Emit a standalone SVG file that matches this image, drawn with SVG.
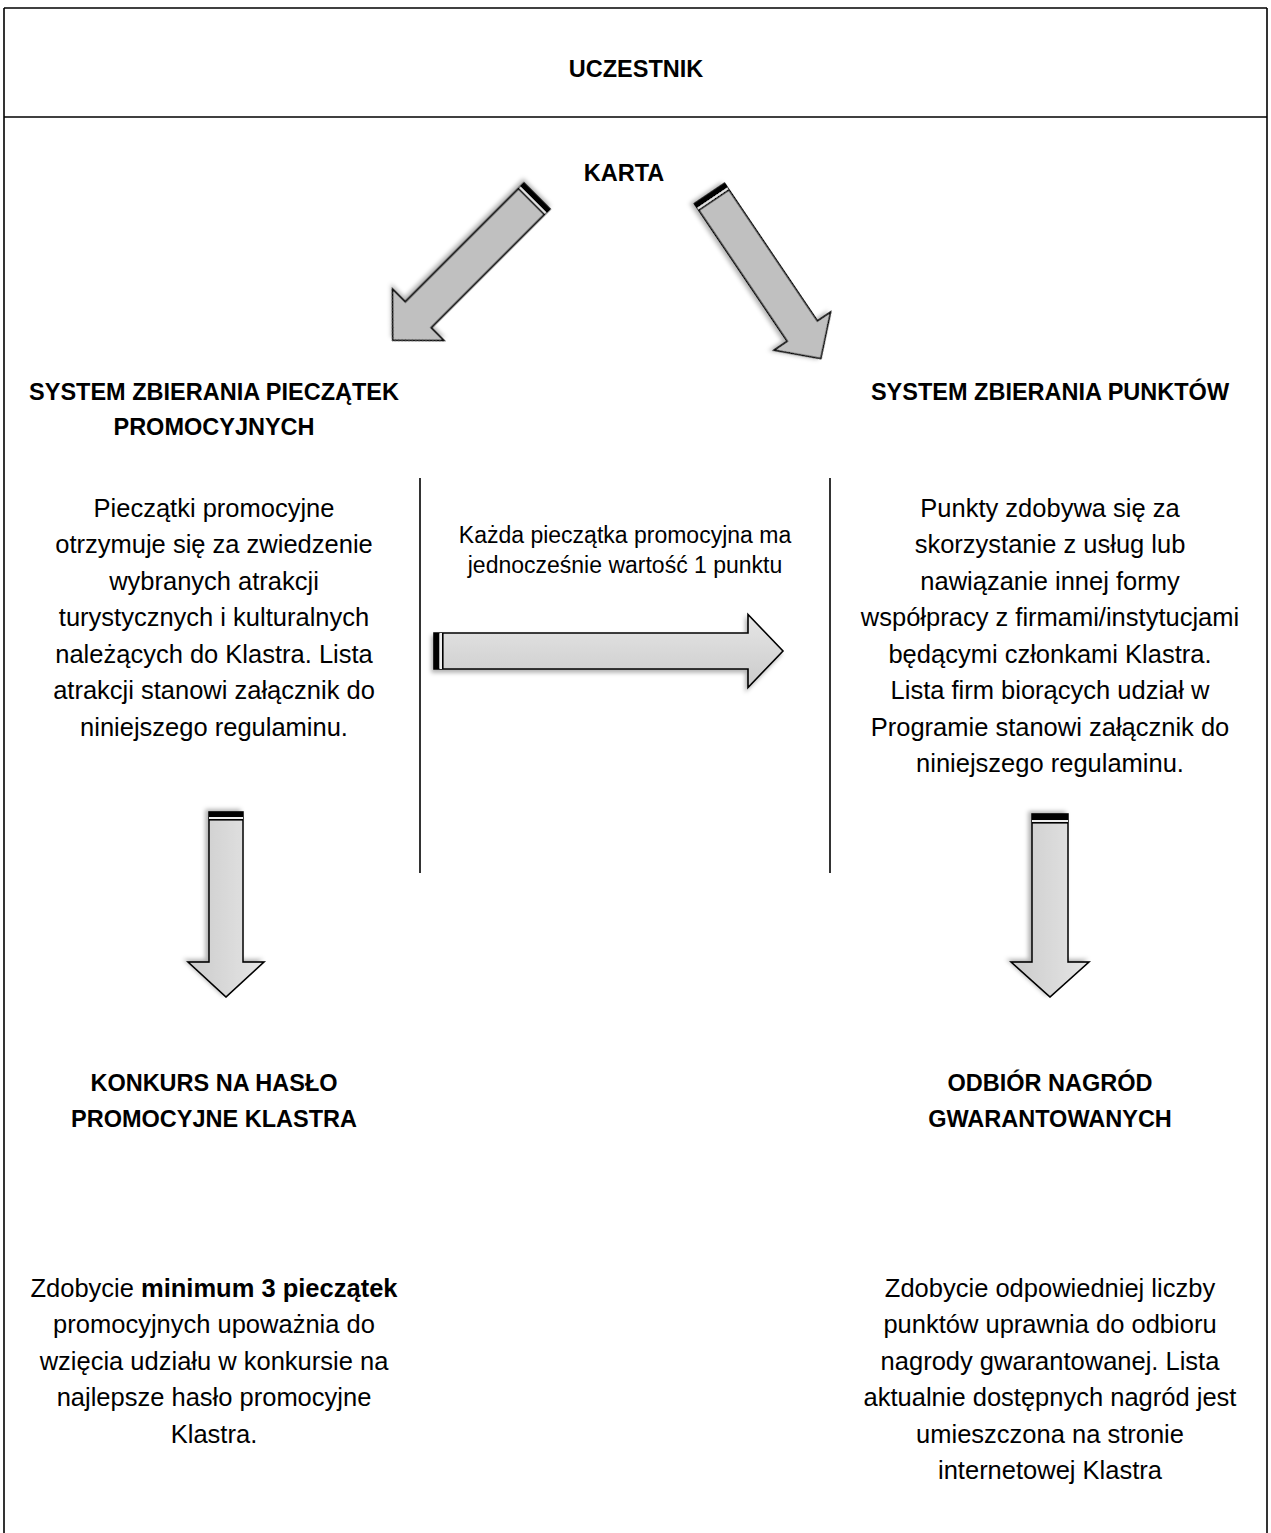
<svg xmlns="http://www.w3.org/2000/svg" width="1271" height="1533" viewBox="0 0 1271 1533">
<style>
text{font-family:"Liberation Sans",Arial,sans-serif;fill:#000;text-anchor:middle}
.t{font-weight:bold;font-size:23.5px}
.b{font-size:25.5px}
.m{font-size:23px}
.frame{stroke:#000;stroke-width:1.6;fill:none}
.arr{stroke:#000;stroke-width:1.6;stroke-linejoin:miter}
</style>
<defs>
<linearGradient id="g" x1="0" y1="0" x2="0" y2="1">
<stop offset="0" stop-color="#e6e6e6"/>
<stop offset="1" stop-color="#cbcbcb"/>
</linearGradient>
<filter id="sh" x="-20%" y="-20%" width="140%" height="140%">
<feDropShadow dx="-2" dy="3" stdDeviation="2" flood-color="#000" flood-opacity="0.3"/>
</filter>
</defs>
<g id="frame">
<line class="frame" x1="4" y1="8" x2="1267" y2="8"/>
<line class="frame" x1="4" y1="8" x2="4" y2="1533"/>
<line class="frame" x1="1267" y1="8" x2="1267" y2="1533"/>
<line class="frame" x1="4" y1="117" x2="1267" y2="117"/>
<line class="frame" x1="420" y1="478" x2="420" y2="873"/>
<line class="frame" x1="830" y1="478" x2="830" y2="873"/>
</g>
<g id="node-uczestnik"><text class="t" x="636" y="77">UCZESTNIK</text></g>
<g id="node-karta"><text class="t" x="624" y="181">KARTA</text></g>
<g id="node-pieczatki">
<text class="t" x="214" y="400">SYSTEM ZBIERANIA PIECZĄTEK</text>
<text class="t" x="214" y="435">PROMOCYJNYCH</text>
<text class="b" x="214" y="517">Pieczątki promocyjne</text>
<text class="b" x="214" y="553">otrzymuje się za zwiedzenie</text>
<text class="b" x="214" y="590">wybranych atrakcji</text>
<text class="b" x="214" y="626">turystycznych i kulturalnych</text>
<text class="b" x="214" y="663">należących do Klastra. Lista</text>
<text class="b" x="214" y="699">atrakcji stanowi załącznik do</text>
<text class="b" x="214" y="736">niniejszego regulaminu.</text>
</g>
<g id="node-punkty">
<text class="t" x="1050" y="400">SYSTEM ZBIERANIA PUNKTÓW</text>
<text class="b" x="1050" y="517">Punkty zdobywa się za</text>
<text class="b" x="1050" y="553">skorzystanie z usług lub</text>
<text class="b" x="1050" y="590">nawiązanie innej formy</text>
<text class="b" x="1050" y="626">współpracy z firmami/instytucjami</text>
<text class="b" x="1050" y="663">będącymi członkami Klastra.</text>
<text class="b" x="1050" y="699">Lista firm biorących udział w</text>
<text class="b" x="1050" y="736">Programie stanowi załącznik do</text>
<text class="b" x="1050" y="772">niniejszego regulaminu.</text>
</g>
<g id="node-info">
<text class="m" x="625" y="543">Każda pieczątka promocyjna ma</text>
<text class="m" x="625" y="573">jednocześnie wartość 1 punktu</text>
</g>
<g id="node-konkurs">
<text class="t" x="214" y="1091">KONKURS NA HASŁO</text>
<text class="t" x="214" y="1127">PROMOCYJNE KLASTRA</text>
<text class="b" x="214" y="1297">Zdobycie <tspan font-weight="bold">minimum 3 pieczątek</tspan></text>
<text class="b" x="214" y="1333">promocyjnych upoważnia do</text>
<text class="b" x="214" y="1370">wzięcia udziału w konkursie na</text>
<text class="b" x="214" y="1406">najlepsze hasło promocyjne</text>
<text class="b" x="214" y="1443">Klastra.</text>
</g>
<g id="node-nagrody">
<text class="t" x="1050" y="1091">ODBIÓR NAGRÓD</text>
<text class="t" x="1050" y="1127">GWARANTOWANYCH</text>
<text class="b" x="1050" y="1297">Zdobycie odpowiedniej liczby</text>
<text class="b" x="1050" y="1333">punktów uprawnia do odbioru</text>
<text class="b" x="1050" y="1370">nagrody gwarantowanej. Lista</text>
<text class="b" x="1050" y="1406">aktualnie dostępnych nagród jest</text>
<text class="b" x="1050" y="1443">umieszczona na stronie</text>
<text class="b" x="1050" y="1479">internetowej Klastra</text>
</g>
<g id="connectors">
<g id="arrow-karta-pieczatki" transform="translate(537,196) rotate(135)" filter="url(#sh)">
<path class="arr" fill="#c0c0c0" d="M0,-18.4 L168,-18.4 L168,-36.4 L204,0 L168,36.4 L168,18.4 L0,18.4 Z"/>
<rect x="0" y="-18.4" width="5" height="36.8" fill="#000"/>
<rect x="5" y="-18.4" width="2" height="36.8" fill="#e0e0e0"/>
<line x1="7.8" y1="-18.4" x2="7.8" y2="18.4" stroke="#000" stroke-width="1.6"/>
</g>
<g id="arrow-karta-punkty" transform="translate(709.5,193.5) rotate(56)" filter="url(#sh)">
<path class="arr" fill="#c0c0c0" d="M0,-18.2 L166,-18.2 L166,-34 L199,0 L166,34 L166,18.2 L0,18.2 Z"/>
<rect x="0" y="-18.2" width="5" height="36.4" fill="#000"/>
<rect x="5" y="-18.2" width="2" height="36.4" fill="#e0e0e0"/>
<line x1="7.8" y1="-18.2" x2="7.8" y2="18.2" stroke="#000" stroke-width="1.6"/>
</g>
<g id="arrow-pieczatki-punkty" transform="translate(434,651)" filter="url(#sh)">
<path class="arr" fill="url(#g)" d="M0,-18 L314,-18 L314,-36.5 L349,0 L314,36.5 L314,18 L0,18 Z"/>
<rect x="0" y="-18" width="5.5" height="36" fill="#000"/>
<rect x="5.5" y="-18" width="2.5" height="36" fill="#eeeeee"/>
<line x1="8.8" y1="-18" x2="8.8" y2="18" stroke="#000" stroke-width="1.6"/>
</g>
<g id="arrow-pieczatki-konkurs" transform="translate(226,812) rotate(90)" filter="url(#sh)">
<path class="arr" fill="url(#g)" d="M0,-17 L150,-17 L150,-38 L185,0 L150,38 L150,17 L0,17 Z"/>
<rect x="0" y="-17" width="5" height="34" fill="#000"/>
<rect x="5" y="-17" width="2" height="34" fill="#eeeeee"/>
<line x1="7.8" y1="-17" x2="7.8" y2="17" stroke="#000" stroke-width="1.6"/>
</g>
<g id="arrow-punkty-nagrody" transform="translate(1050,814) rotate(90)" filter="url(#sh)">
<path class="arr" fill="url(#g)" d="M0,-18 L148,-18 L148,-39 L183,0 L148,39 L148,18 L0,18 Z"/>
<rect x="0" y="-18" width="6" height="36" fill="#000"/>
<rect x="6" y="-18" width="2" height="36" fill="#eeeeee"/>
<line x1="8.8" y1="-18" x2="8.8" y2="18" stroke="#000" stroke-width="1.6"/>
</g>
</g>
</svg>
